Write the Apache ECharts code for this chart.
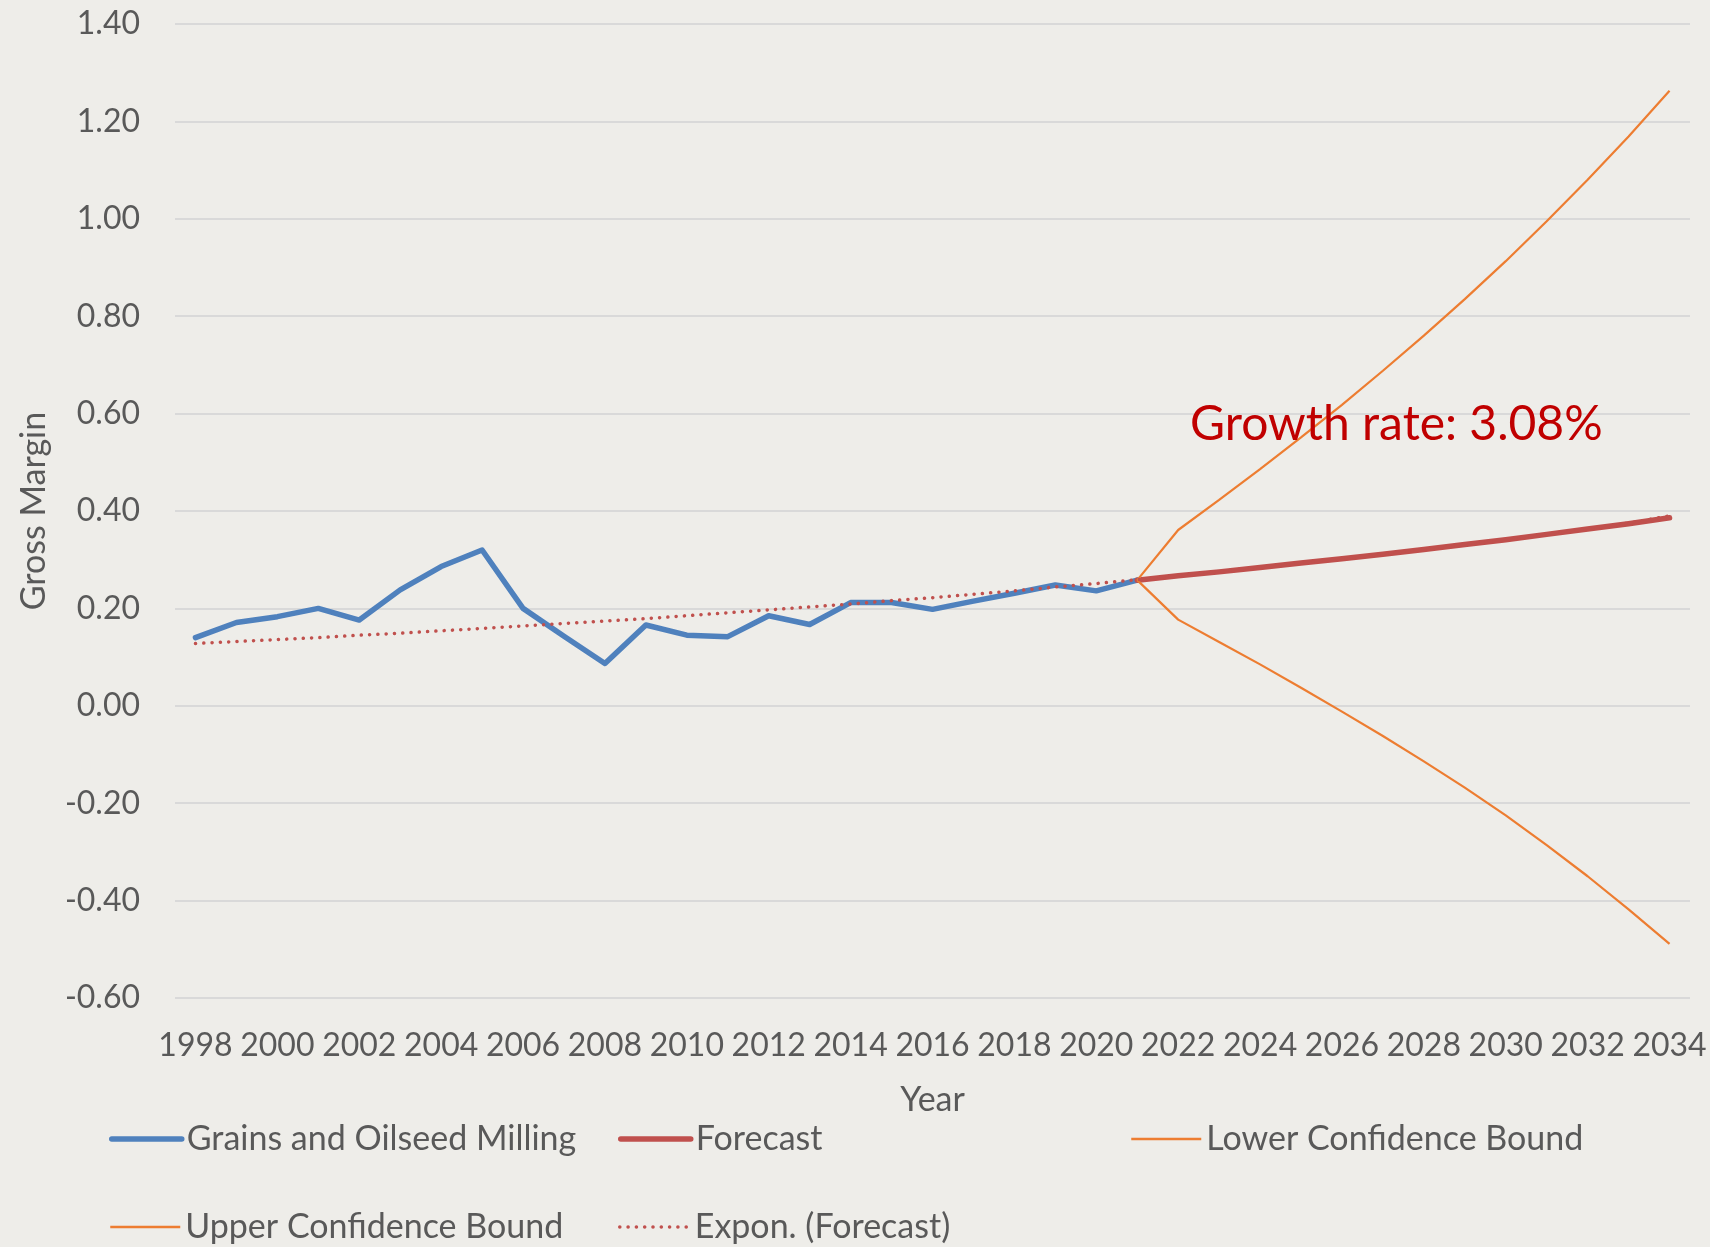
<!DOCTYPE html>
<html>
<head>
<meta charset="utf-8">
<script src="https://cdn.jsdelivr.net/npm/echarts@6/dist/echarts.min.js"></script>
<style>
html,body{margin:0;padding:0;background:#EEEDE9;}
#chart{width:1710px;height:1247px;}
</style>
</head>
<body>
<div id="chart"></div>
<script>
const years = ['1998','1999','2000','2001','2002','2003','2004','2005','2006','2007','2008','2009','2010','2011','2012','2013','2014','2015','2016','2017','2018','2019','2020','2021','2022','2023','2024','2025','2026','2027','2028','2029','2030','2031','2032','2033','2034'];

const actual = [0.140,0.171,0.183,0.200,0.176,0.238,0.286,0.320,0.200,0.143,0.087,0.166,0.145,0.142,0.185,0.167,0.212,0.212,0.198,0.215,0.231,0.248,0.236,0.258,
  null,null,null,null,null,null,null,null,null,null,null,null,null];

const forecast = [null,null,null,null,null,null,null,null,null,null,null,null,null,null,null,null,null,null,null,null,null,null,null,
  0.258,0.267,0.275,0.284,0.293,0.302,0.311,0.321,0.331,0.341,0.352,0.363,0.374,0.386];

const lowerBound = [null,null,null,null,null,null,null,null,null,null,null,null,null,null,null,null,null,null,null,null,null,null,null,
  0.258,0.177,0.131,0.085,0.037,-0.012,-0.062,-0.114,-0.168,-0.225,-0.286,-0.350,-0.418,-0.489];

const upperBound = [null,null,null,null,null,null,null,null,null,null,null,null,null,null,null,null,null,null,null,null,null,null,null,
  0.258,0.361,0.423,0.486,0.551,0.618,0.688,0.760,0.835,0.913,0.995,1.080,1.169,1.263];

const expTrend = [0.128,0.132,0.136,0.140,0.145,0.149,0.154,0.159,0.164,0.169,0.174,0.179,0.185,0.191,0.197,0.203,0.209,0.216,0.222,0.229,0.236,0.244,0.251,0.259,
  0.267,0.276,0.284,0.293,0.302,0.311,0.321,0.331,0.341,0.352,0.363,0.375,0.390];

const seriesNames = ['Grains and Oilseed Milling','Forecast','Lower Confidence Bound','Upper Confidence Bound','Expon. (Forecast)'];
const annotationText = 'Growth rate: 3.08%';

const FONT = 'Lato';
const TXT = '#595959';

const chart = echarts.init(document.getElementById('chart'), null, {renderer:'canvas'});

function legendAt(name, left, top, lw){
  return {
    data:[name], left:left, top:top, orient:'horizontal', padding:0,
    itemWidth:70, itemHeight:14, itemGap:0,
    itemStyle:{opacity:0},
    lineStyle:{width:lw},
    textStyle:{fontFamily:FONT, fontSize:34, color:TXT},
    selectedMode:false
  };
}

chart.setOption({
  backgroundColor:'#EEEDE9',
  animation:false,
  title:{
    text:annotationText, left:1185, top:396,
    textStyle:{fontFamily:FONT, fontSize:48, fontWeight:'normal', color:'#C00000'}
  },
  legend:[
    legendAt(seriesNames[0], 109, 1122, 5.5),
    legendAt(seriesNames[1], 618, 1122, 5.5),
    legendAt(seriesNames[2], 1130, 1122, 2.5),
    legendAt(seriesNames[3], 109, 1210, 2.5),
    legendAt(seriesNames[4], 618, 1210, 3.5)
  ],
  grid:{left:175, right:20, top:24, bottom:249, containLabel:false},
  xAxis:{
    type:'category', data:years, boundaryGap:true,
    name:'Year', nameLocation:'middle', nameGap:85,
    nameTextStyle:{fontFamily:FONT, fontSize:34, color:TXT},
    axisLine:{show:false, onZero:false},
    axisTick:{show:false},
    axisLabel:{interval:1, margin:32, fontFamily:FONT, fontSize:32, color:TXT},
    splitLine:{show:false}
  },
  yAxis:{
    type:'value', min:-0.6, max:1.4, interval:0.2,
    name:'Gross Margin', nameLocation:'middle', nameGap:124, nameRotate:90,
    nameTextStyle:{fontFamily:FONT, fontSize:34, color:TXT},
    axisLine:{show:false}, axisTick:{show:false},
    axisLabel:{margin:35, fontFamily:FONT, fontSize:32, color:TXT,
      formatter:function(v){ return v.toFixed(2); }},
    splitLine:{show:true, lineStyle:{color:'#D9D9D9', width:2}}
  },
  series:[
    {name:seriesNames[0], type:'line', data:actual, symbol:'none', connectNulls:false,
     lineStyle:{color:'#4F81BD', width:5.5, cap:'round', join:'round'}, itemStyle:{color:'#4F81BD'}, z:2},
    {name:seriesNames[1], type:'line', data:forecast, symbol:'none',
     lineStyle:{color:'#C0504D', width:5.5, cap:'round', join:'round'}, itemStyle:{color:'#C0504D'}, z:3},
    {name:seriesNames[2], type:'line', data:lowerBound, symbol:'none',
     lineStyle:{color:'#ED7D31', width:2.2}, itemStyle:{color:'#ED7D31'}, z:4},
    {name:seriesNames[3], type:'line', data:upperBound, symbol:'none',
     lineStyle:{color:'#ED7D31', width:2.2}, itemStyle:{color:'#ED7D31'}, z:4},
    {name:seriesNames[4], type:'line', data:expTrend, symbol:'none',
     lineStyle:{color:'#C0504D', width:3.5, type:[0.1, 8.2], cap:'round'}, itemStyle:{color:'#C0504D'}, z:5}
  ]
});
</script>
</body>
</html>
